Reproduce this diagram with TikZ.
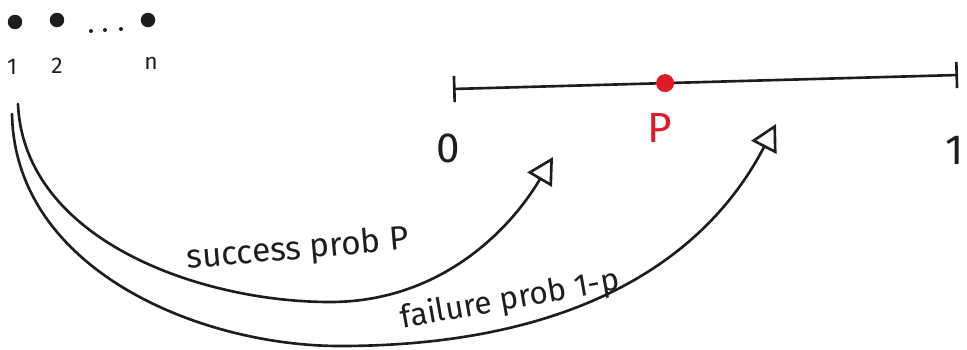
\documentclass[tikz,border=0pt]{standalone}
\usepackage{fontspec}
\setmainfont{Fira Sans}
\usetikzlibrary{arrows.meta,calc}
\definecolor{pred}{RGB}{222,28,40}
\definecolor{ink}{RGB}{30,28,28}
\tikzset{
  ink/.style={draw=ink, line width=1.5pt, line cap=round},
  bigdot/.style={circle, fill=ink, inner sep=0pt, minimum size=0.29cm},
  smalldot/.style={circle, fill=ink, inner sep=0pt, minimum size=0.08cm},
  idx/.style={inner sep=0pt, text=ink, font=\fontsize{13}{14}\selectfont},
  numlab/.style={inner sep=0pt, text=ink, font=\fontsize{24}{26}\selectfont},
  hand/.style={inner sep=0pt, text=ink, font=\fontsize{19}{22}\selectfont},
  head/.style={-{Triangle[open, length=15pt, width=16pt, line width=1.5pt]}},
}
\begin{document}
\begin{tikzpicture}[x=0.02cm, y=-0.02cm]
\useasboundingbox (0,0) rectangle (967,349);
% items 1..n
\node[bigdot] (d1) at (15,22) {};
\node[bigdot] (d2) at (57,20) {};
\node[bigdot] (dn) at (148,20) {};
\node[smalldot] (e1) at (91,31) {};
\node[smalldot] (e2) at (105,30) {};
\node[smalldot] (e3) at (121,29) {};
\node[idx] (l1) at (12,67) {1};
\node[idx] (l2) at (57,66) {2};
\node[idx] (ln) at (151,63) {n};
% unit interval
\coordinate (L0) at (453,89);
\coordinate (L1) at (958,75);
\draw[ink, {Bar[width=15pt, line width=1.5pt]}-{Bar[width=15pt, line width=1.5pt]}] (L0) -- (L1);
\node[circle, fill=pred, inner sep=0pt, minimum size=0.36cm] (pdot) at ($(L0)!0.42!(L1)$) {};
\node[numlab] (zero) at (448,148) {0};
\node[numlab] (one) at (955,150) {1};
\node[numlab, text=pred] (plab) at (660,128) {P};
% arrows
\coordinate (s1) at (18,104);
\coordinate (s2) at (12,114);
\coordinate (t1) at (553,157);
\coordinate (t2) at (776,124);
\draw[ink, head] (s1) .. controls (24,240) and (200,302) .. (330,302)
   .. controls (440,302) and (510,230) .. (t1);
\draw[ink, head] (s2) .. controls (15,270) and (200,346) .. (340,346)
   .. controls (560,346) and (700,270) .. (t2);
\node[hand, rotate=5] (succ) at (298,250) {success prob P};
\node[hand, rotate=10, font=\fontsize{18}{21}\selectfont] (fail) at (510,300) {failure prob 1-p};
\end{tikzpicture}
\end{document}
